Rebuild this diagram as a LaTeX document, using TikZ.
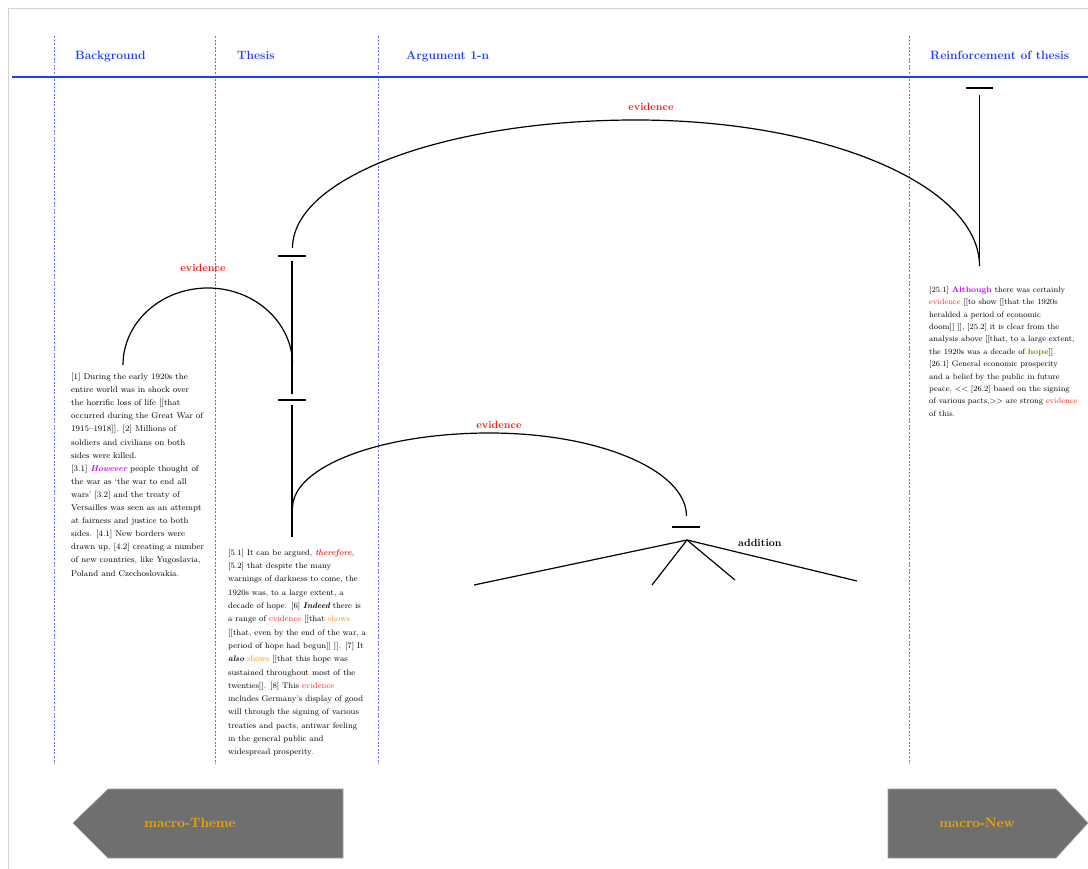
\documentclass[tikz,border=0pt]{standalone}
\usepackage{xcolor}

\definecolor{hdrblue}{RGB}{30,60,255}
\definecolor{guideblue}{RGB}{100,110,255}
\definecolor{framegray}{RGB}{210,210,210}
\definecolor{relred}{RGB}{255,20,20}
\definecolor{evred}{RGB}{245,45,45}
\definecolor{showorange}{RGB}{255,140,30}
\definecolor{conjpurple}{RGB}{195,0,255}
\definecolor{hopegreen}{RGB}{100,140,0}
\definecolor{macrofill}{RGB}{111,111,111}
\definecolor{macroedge}{RGB}{160,160,160}
\definecolor{macrogold}{RGB}{240,168,0}

% inline markup used in the text blocks
\newcommand{\ev}[1]{\textcolor{evred}{#1}}
\newcommand{\shw}[1]{\textcolor{showorange}{#1}}
\newcommand{\conj}[1]{\textcolor{conjpurple}{\bfseries\itshape #1}}
\newcommand{\bitx}[1]{{\bfseries\itshape #1}}

\tikzset{
  header/.style={font=\fontsize{12}{14}\selectfont\bfseries, text=hdrblue, anchor=base west, inner sep=0pt},
  guide/.style={draw=guideblue, line width=0.6pt, dash pattern=on 2pt off 1.6pt},
  body/.style={font=\fontsize{8.4}{13.1}\selectfont, align=left, anchor=north west, inner sep=0pt},
  rel/.style={font=\fontsize{10.5}{12}\selectfont\bfseries, text=relred, anchor=base, inner sep=0pt},
  link/.style={draw=black, line width=1.2pt},
  tickbar/.style={minimum width=27pt, minimum height=0pt, inner sep=0pt},
  macro/.style={fill=macrofill, draw=macroedge, line width=0.6pt},
  macrotext/.style={font=\fontsize{13.5}{15}\selectfont\bfseries, text=macrogold, inner sep=0pt},
}

\begin{document}
\begin{tikzpicture}[x=1pt,y=-1pt]
\useasboundingbox (0,0) rectangle (1088,869);

% page frame
\draw[framegray, line width=0.8pt] (8,869) -- (8,8) -- (1088,8);

% column guides
\foreach \gx/\gn in {54/ga,215/gb,378/gc,909/gd}{
  \coordinate (\gn-top) at (\gx,36);
  \coordinate (\gn-bot) at (\gx,764);
  \draw[guide] (\gn-top) -- (\gn-bot);
}

% header row
\coordinate (rule-l) at (12,77);
\coordinate (rule-r) at (1088,77);
\draw[hdrblue, line width=2.4pt] (rule-l) -- (rule-r);
\node[header] (h-bg)  at (75,60)  {Background};
\node[header] (h-th)  at (237,60) {Thesis};
\node[header] (h-arg) at (406,60) {Argument 1-n};
\node[header] (h-re)  at (930,60) {Reinforcement of thesis};

% text blocks
\node[body] (bg) at (71,373) {%
[1] During the early 1920s the\\
entire world was in shock over\\
the horrific loss of life [[that\\
occurred during the Great War of\\
1915--1918]]. [2] Millions of\\
soldiers and civilians on both\\
sides were killed.\\{}%
[3.1] \conj{However} people thought of\\
the war as `the war to end all\\
wars' [3.2] and the treaty of\\
Versailles was seen as an attempt\\
at fairness and justice to both\\
sides. [4.1] New borders were\\
drawn up, [4.2] creating a number\\
of new countries, like Yugoslavia,\\
Poland and Czechoslovakia.};

\node[body, font=\fontsize{8.2}{13.3}\selectfont] (th) at (228,549) {%
[5.1] It can be argued, \textcolor{relred}{\bfseries\itshape therefore},\\{}%
[5.2] that despite the many\\
warnings of darkness to come, the\\
1920s was, to a large extent, a\\
decade of hope. [6] \bitx{Indeed} there is\\
a range of \ev{evidence} [[that \shw{shows}\\{}%
[[that, even by the end of the war, a\\
period of hope had begun]] ]]. [7] It\\
\bitx{also} \shw{shows} [[that this hope was\\
sustained throughout most of the\\
twenties]]. [8] This \ev{evidence}\\
includes Germany's display of good\\
will through the signing of various\\
treaties and pacts, antiwar feeling\\
in the general public and\\
widespread prosperity.};

\node[body, font=\fontsize{8}{12.4}\selectfont] (re) at (929,286) {%
[25.1] \textcolor{conjpurple}{\bfseries Although} there was certainly\\
\ev{evidence} [[to show [[that the 1920s\\
heralded a period of economic\\
doom]] ]], [25.2] it is clear from the\\
analysis above [[that, to a large extent,\\
the 1920s was a decade of \textcolor{hopegreen}{\bfseries hope}]].\\{}%
[26.1] General economic prosperity\\
and a belief by the public in future\\
peace, <\kern0pt< [26.2] based on the signing\\
of various pacts,>\kern0pt> are strong \ev{evidence}\\
of this.};

% thesis spine with its bars
\node[tickbar] (t1) at (292,256) {};
\node[tickbar] (t2) at (292,400) {};
\coordinate (spine-end) at (292,537);
\draw[link] (t1.west) -- (t1.east);
\draw[link] (t2.west) -- (t2.east);
\draw[link] ([yshift=-5pt]t1.center) -- ([yshift=6pt]t2.center);
\draw[link] ([yshift=-5pt]t2.center) -- (spine-end);

% reinforcement stem
\node[tickbar] (t3) at (979.5,88) {};
\coordinate (re-stem) at (979.5,266);
\draw[link] (t3.west) -- (t3.east);
\draw[link] ([yshift=-7pt]t3.center) -- (re-stem);

% addition fan
\node[tickbar] (t4) at (686,527) {};
\coordinate (hub) at (687,540);
\coordinate (leaf1) at (474,585);
\coordinate (leaf2) at (652,585);
\coordinate (leaf3) at (735,580);
\coordinate (leaf4) at (857,581);
\draw[link] (t4.west) -- (t4.east);
\foreach \lf in {leaf1,leaf2,leaf3,leaf4}{\draw[link] (hub) -- (\lf);}
\node[rel, text=black, anchor=base west] (add) at (738,546) {addition};

% evidence arcs
\coordinate (top-start) at (292.5,248);
\draw[link] (top-start)
  arc[start angle=180, end angle=90, x radius=343.5pt, y radius=128pt]
  arc[start angle=90, end angle=0, x radius=343.5pt, y radius=146pt];
\node[rel] (ev-top) at (651,111) {evidence};

\coordinate (bg-start) at (123,365);
\draw[link] (bg-start) arc[start angle=180, end angle=0, x radius=84.8pt, y radius=77pt];
\node[rel] (ev-bg) at (203,272) {evidence};

\coordinate (mid-start) at (292.5,508);
\draw[link] (mid-start)
  arc[start angle=180, end angle=90, x radius=197pt, y radius=75pt]
  arc[start angle=90, end angle=0, x radius=197pt, y radius=83pt];
\node[rel] (ev-mid) at (499,428) {evidence};

% macro navigation arrows
\coordinate (mt-tip) at (73,823);
\coordinate (mt-ul) at (108,789);
\coordinate (mt-ur) at (343,789);
\coordinate (mt-lr) at (343,858);
\coordinate (mt-ll) at (108,858);
\path[macro] (mt-tip) -- (mt-ul) -- (mt-ur) -- (mt-lr) -- (mt-ll) -- cycle;
\node[macrotext] (mtheme) at (190,823) {macro-Theme};

\coordinate (mn-ul) at (888,789);
\coordinate (mn-ur) at (1056,789);
\coordinate (mn-tip) at (1088,823);
\coordinate (mn-lr) at (1056,858);
\coordinate (mn-ll) at (888,858);
\path[macro] (mn-ul) -- (mn-ur) -- (mn-tip) -- (mn-lr) -- (mn-ll) -- cycle;
\node[macrotext] (mnew) at (977,823) {macro-New};
\end{tikzpicture}
\end{document}
